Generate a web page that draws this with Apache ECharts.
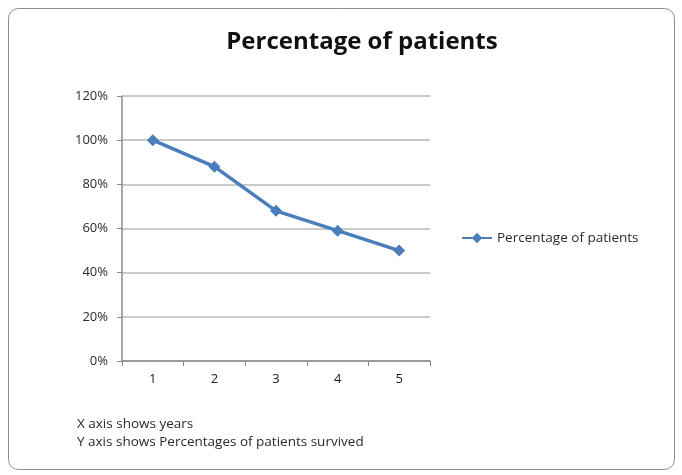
<!DOCTYPE html>
<html>
<head>
<meta charset="utf-8">
<script src="https://cdn.jsdelivr.net/npm/echarts@6/dist/echarts.min.js"></script>
<style>
  html, body { margin: 0; padding: 0; background: #fff; }
  #chart { width: 682px; height: 475px; }
</style>
</head>
<body>
<div id="chart"></div>
<script>
// Survival share of patients by year after treatment
const years = ['1', '2', '3', '4', '5'];
const survivedPct = [100, 88, 68, 59, 50];
const yTicks = [0, 20, 40, 60, 80, 100, 120];
const seriesName = 'Percentage of patients';
const notes = ['X axis shows years', 'Y axis shows Percentages of patients survived'];

const font = '"Open Sans", "Liberation Sans", sans-serif';
const blue = '#4a7ebb';

const chart = echarts.init(document.getElementById('chart'));
chart.setOption({
  backgroundColor: '#fff',
  animation: false,
  title: {
    text: 'Percentage of patients',
    left: 357, top: 25, textAlign: 'center',
    textStyle: { fontFamily: font, fontWeight: 'bold', fontSize: 24, color: '#111' }
  },
  legend: {
    data: [seriesName],
    left: 456, top: 226,
    itemWidth: 30, itemHeight: 13, itemGap: 4,
    textStyle: { fontFamily: font, fontSize: 13.5, color: '#2a2a2a' }
  },
  grid: { left: 122, right: 252, top: 96, bottom: 114 },
  xAxis: {
    type: 'category',
    data: years,
    boundaryGap: true,
    axisLine: { lineStyle: { color: '#8a8a8a', width: 1.5 } },
    axisTick: { show: true, length: 5, inside: false, lineStyle: { color: '#8a8a8a' } },
    axisLabel: { fontFamily: font, fontSize: 13, color: '#1a1a1a', margin: 12 }
  },
  yAxis: {
    type: 'value',
    min: yTicks[0], max: yTicks[yTicks.length - 1], interval: 20,
    axisLine: { show: true, lineStyle: { color: '#8a8a8a', width: 1.5 } },
    axisTick: { show: true, length: 5, lineStyle: { color: '#8a8a8a' } },
    splitLine: { lineStyle: { color: '#b8b8b8', width: 1.5 } },
    axisLabel: { fontFamily: font, fontSize: 13, color: '#2a2a2a', margin: 14,
      formatter: v => v + '%' }
  },
  series: [{
    name: seriesName,
    type: 'line',
    data: survivedPct,
    symbol: 'diamond',
    symbolSize: 12,
    lineStyle: { color: blue, width: 3.5 },
    itemStyle: { color: blue }
  }],
  graphic: [
    {
      type: 'rect',
      shape: { x: 8.5, y: 8.5, width: 666, height: 461, r: 10 },
      style: { fill: 'none', stroke: '#8c8c8c', lineWidth: 1 },
      silent: true
    },
    {
      type: 'text', left: 77, top: 417,
      style: { text: notes[0], fontFamily: font, fontSize: 13.5, fill: '#2a2a2a' }
    },
    {
      type: 'text', left: 77, top: 435,
      style: { text: notes[1], fontFamily: font, fontSize: 13.5, fill: '#2a2a2a' }
    }
  ]
});
</script>
</body>
</html>
